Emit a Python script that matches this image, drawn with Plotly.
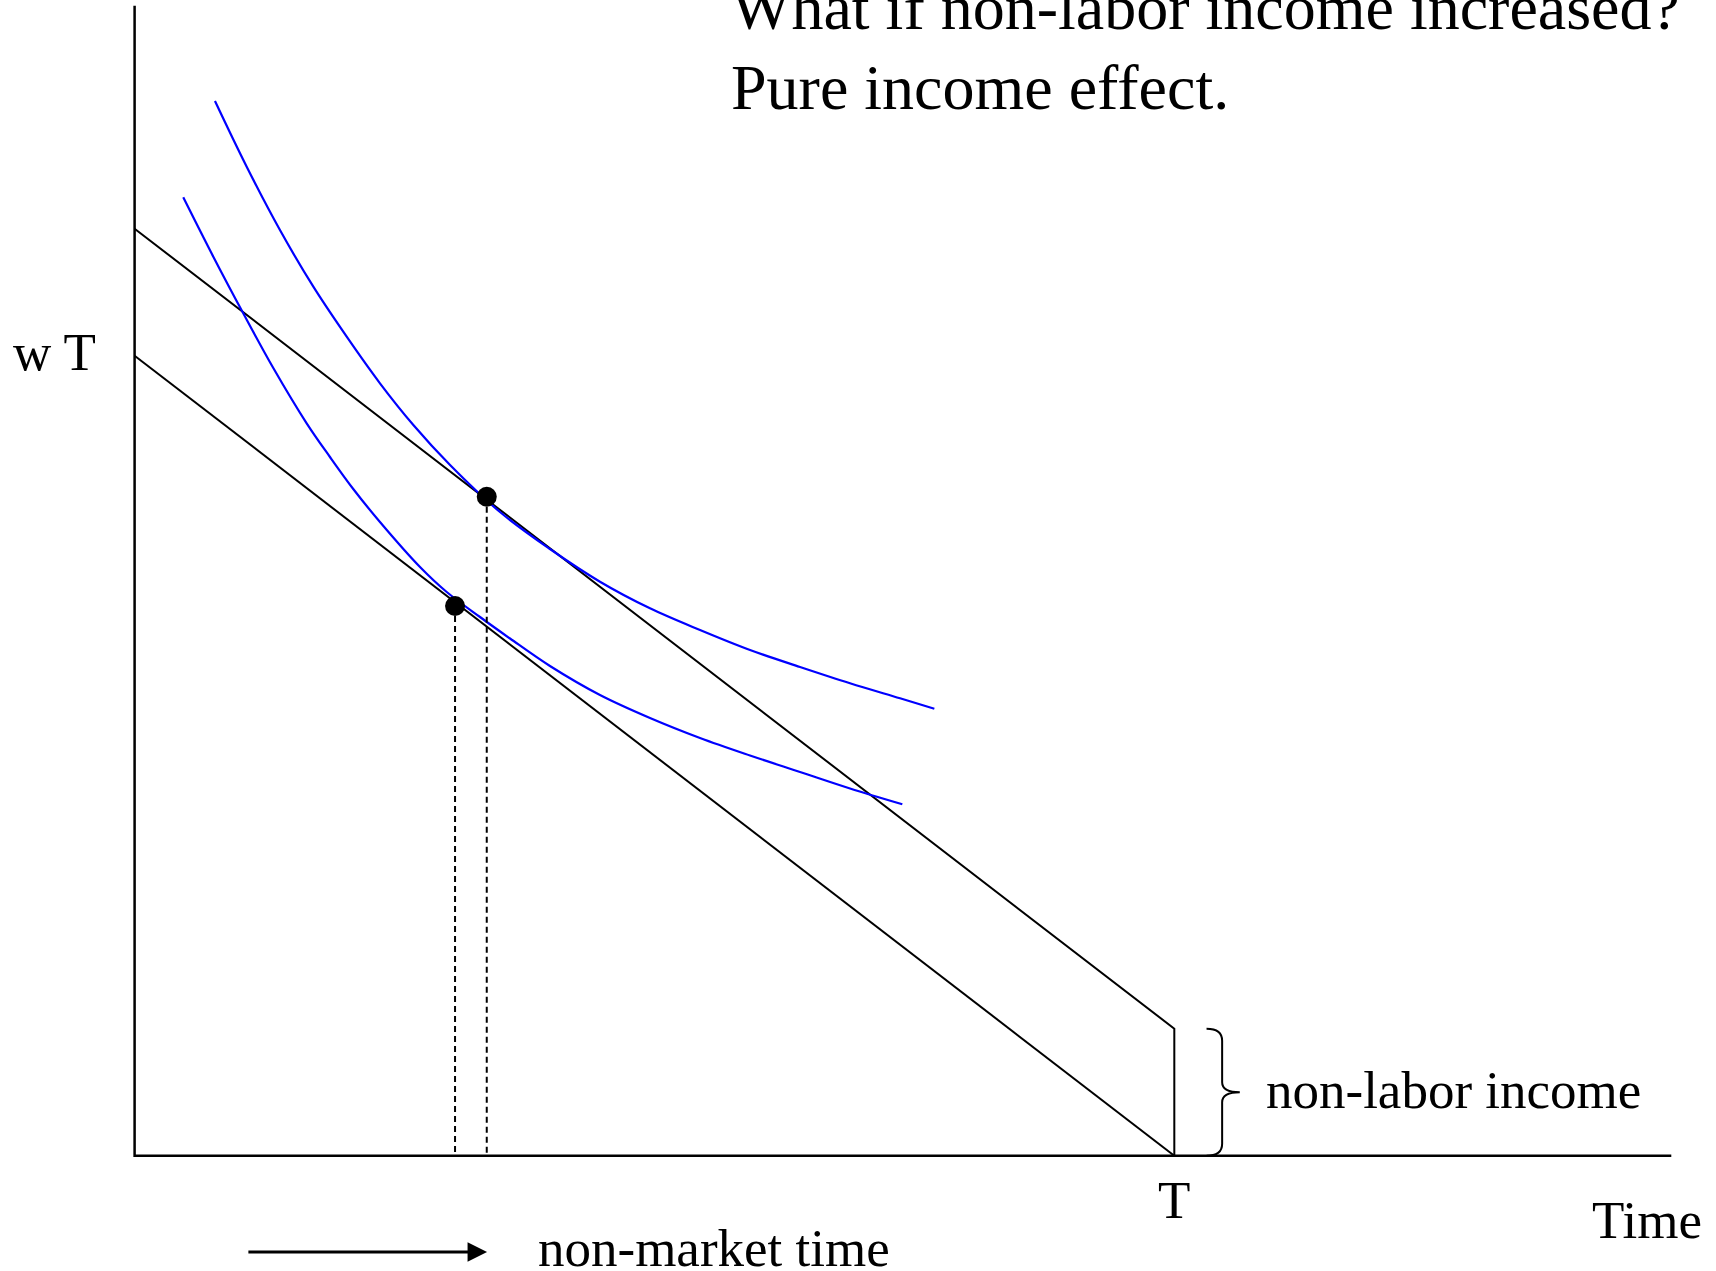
import plotly.graph_objects as go

# labour-leisure model, values
T = 100          # total time
w = 8            # wage
V = 127          # non-labor income

budget_hi_x = [0, T, T]
budget_hi_y = [w * T + V, V, 0]
budget_lo_x = [0, T]
budget_lo_y = [w * T, 0]

# indifference curves
ic_hi_x = [7.73, 10.78, 13.98, 17.19, 20.40, 23.60, 26.81, 30.34, 35.14, 39.95,
           44.76, 49.57, 54.38, 59.19, 64.00, 68.81, 73.62, 76.92]
ic_hi_y = [1054.7, 989.0, 925.7, 869.0, 819.0, 772.4, 730.7, 690.7, 643.7, 606.7,
           574.0, 547.4, 525.7, 505.7, 488.7, 472.4, 457.4, 447.0]
ic_lo_x = [4.68, 7.57, 10.45, 13.34, 16.55, 18.79, 21.03, 23.60, 27.45, 30.02,
           33.22, 36.11, 39.95, 44.76, 49.57, 54.38, 59.19, 64.00, 68.81, 73.84]
ic_lo_y = [958.4, 899.0, 842.4, 787.7, 732.4, 698.7, 666.7, 633.7, 588.7, 563.7,
           538.7, 517.2, 489.7, 460.7, 437.7, 417.7, 400.2, 383.7, 367.2, 351.4]

# optimal choices
opt_x = [33.87, 30.82]
opt_y = [659.0, 549.7]

x_axis_end = 147.8
y_axis_end = 1150

FONT = "Liberation Serif"

fig = go.Figure()

# axes
fig.add_trace(go.Scatter(x=[0, 0, x_axis_end], y=[y_axis_end, 0, 0], mode="lines",
                         line=dict(color="black", width=2.5)))
# budget lines
fig.add_trace(go.Scatter(x=budget_hi_x, y=budget_hi_y, mode="lines",
                         line=dict(color="black", width=2)))
fig.add_trace(go.Scatter(x=budget_lo_x, y=budget_lo_y, mode="lines",
                         line=dict(color="black", width=2)))
# indifference curves
fig.add_trace(go.Scatter(x=ic_hi_x, y=ic_hi_y, mode="lines", line_shape="spline",
                         line=dict(color="#0000FF", width=2.2, smoothing=1)))
fig.add_trace(go.Scatter(x=ic_lo_x, y=ic_lo_y, mode="lines", line_shape="spline",
                         line=dict(color="#0000FF", width=2.2, smoothing=1)))
# dashed drop lines
for px, py in zip(opt_x, opt_y):
    fig.add_trace(go.Scatter(x=[px, px], y=[py, 0], mode="lines",
                             line=dict(color="black", width=2, dash="6px,4px")))
fig.add_trace(go.Scatter(x=opt_x, y=opt_y, mode="markers",
                         marker=dict(color="black", size=20)))

# brace for non-labor income
bx0, bx1, bx2 = T + 3.1, T + 4.6, T + 6.3
mid = V / 2
brace = (f"M {bx0},{V} Q {bx1},{V} {bx1},{V - 12} L {bx1},{mid + 10} "
         f"Q {bx1},{mid} {bx2},{mid} Q {bx1},{mid} {bx1},{mid - 10} "
         f"L {bx1},{12} Q {bx1},0 {bx0},0")
fig.add_shape(type="path", path=brace, xref="x", yref="y",
              line=dict(color="black", width=2))

def label(text, x, y, size=53, xanchor="left"):
    fig.add_annotation(text=text, x=x, y=y, xref="x", yref="y", showarrow=False,
                       xanchor=xanchor, yanchor="middle",
                       font=dict(family=FONT, size=size, color="black"))

label("What if non-labor income increased?", 57.2, 1148, size=64)
label("Pure income effect.", 57.2, 1068, size=64)
label("w T", -3.5, w * T + 4, xanchor="right")
label("T", T, -44, xanchor="center")
label("Time", 140.0, -64)
label("non-labor income", 108.6, 66)
label("non-market time", 38.6, -92)

fig.add_annotation(x=33.9, y=-96.3, ax=10.8, ay=-96.3, xref="x", yref="y",
                   axref="x", ayref="y", text="", showarrow=True,
                   arrowhead=2, arrowsize=1.3, arrowwidth=3, arrowcolor="black")

fig.update_layout(
    width=1716, height=1271, autosize=False,
    margin=dict(l=0, r=0, t=0, b=0),
    plot_bgcolor="white", paper_bgcolor="white",
    showlegend=False, hovermode=False,
    xaxis=dict(range=[-12.946, 152.10], visible=False, fixedrange=True),
    yaxis=dict(range=[-115.3, 1155.7], visible=False, fixedrange=True),
)

fig.write_html("out.html", config={"displayModeBar": False},
               post_script="document.body.style.margin='0';")
